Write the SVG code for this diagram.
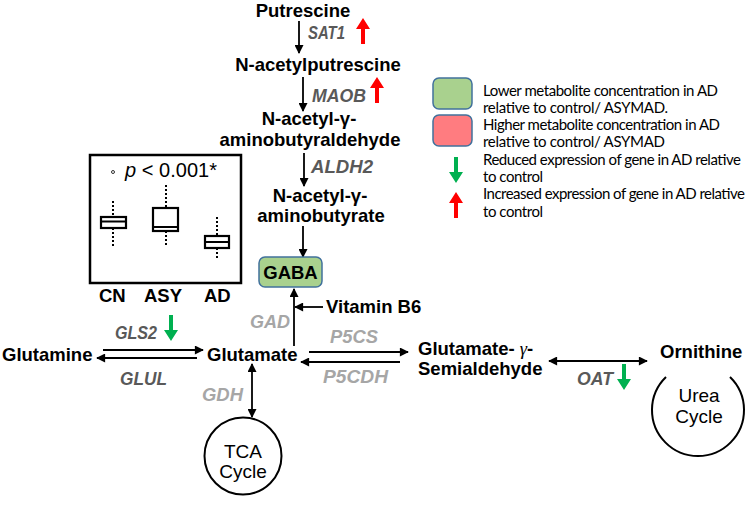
<svg xmlns="http://www.w3.org/2000/svg" width="750" height="515" viewBox="0 0 750 515">
<style>
.m{font-family:"Liberation Sans",Arial,sans-serif;font-weight:bold;font-size:18.5px;fill:#000}
.g{font-family:"Liberation Sans",Arial,sans-serif;font-weight:bold;font-style:italic;font-size:19px}
.dk{fill:#595959}
.lt{fill:#a6a6a6}
.c{font-family:"Liberation Sans",Arial,sans-serif;font-size:19px;fill:#000;text-anchor:middle}
.lg{font-family:Lato,"Liberation Sans",sans-serif;font-size:15px;fill:#000}
.ln{stroke:#000;stroke-width:1.8;fill:none}
.ar{marker-end:url(#ah)}
.ar2{marker-end:url(#ah);marker-start:url(#ah)}
.bx{fill:#fff;stroke:#000;stroke-width:2.2}
.wh{stroke:#000;stroke-width:2;stroke-dasharray:2,2}
</style>
<defs>
<marker id="ah" viewBox="0 0 10 10" refX="9" refY="5" markerUnits="userSpaceOnUse" markerWidth="10" markerHeight="9" orient="auto-start-reverse">
<path d="M0,0 L10,5 L0,10 z" fill="#000"/>
</marker>
<path id="dn" d="M-2,0 h4 v15 h5 L0,26 L-7,15 h5 z" fill="#00b050"/>
<path id="up" d="M-2,26 h4 v-15 h5 L0,0 L-7,11 h5 z" fill="#ff0000"/>
</defs>

<g id="connectors">
<line class="ln ar" x1="299" y1="21" x2="299" y2="53"/>
<line class="ln ar" x1="303" y1="77" x2="303" y2="111"/>
<line class="ln ar" x1="304" y1="153" x2="304" y2="186"/>
<line class="ln ar" x1="303" y1="226" x2="303" y2="257"/>
<line class="ln ar" x1="294" y1="346" x2="294" y2="289"/>
<line class="ln ar" x1="323" y1="307" x2="295" y2="307"/>
<line class="ln ar" x1="103" y1="350" x2="203" y2="350"/>
<line class="ln ar" x1="197" y1="358" x2="97" y2="358"/>
<line class="ln ar" x1="309" y1="352" x2="408" y2="352"/>
<line class="ln ar" x1="400" y1="362" x2="301" y2="362"/>
<line class="ln ar2" x1="549" y1="361" x2="647" y2="361"/>
<line class="ln ar2" x1="252" y1="364" x2="252" y2="417"/>
</g>

<g id="putrescine"><text class="m" x="303" y="17" text-anchor="middle">Putrescine</text></g>
<g id="sat1"><text class="g dk" x="308" y="39" textLength="37" lengthAdjust="spacingAndGlyphs">SAT1</text><use href="#up" x="363" y="18"/></g>
<g id="n-acetylputrescine"><text class="m" x="318" y="71" text-anchor="middle">N-acetylputrescine</text></g>
<g id="maob"><text class="g dk" x="312" y="102" textLength="54" lengthAdjust="spacingAndGlyphs">MAOB</text><use href="#up" x="377" y="77"/></g>
<g id="n-acetyl-gaba-ald"><text class="m" text-anchor="middle"><tspan x="309" y="125">N-acetyl-γ-</tspan><tspan x="310" y="146">aminobutyraldehyde</tspan></text></g>
<g id="aldh2"><text class="g dk" x="311" y="173" textLength="62" lengthAdjust="spacingAndGlyphs">ALDH2</text></g>
<g id="n-acetyl-gaba"><text class="m" text-anchor="middle"><tspan x="320" y="202">N-acetyl-γ-</tspan><tspan x="321" y="222">aminobutyrate</tspan></text></g>
<g id="gaba"><rect x="259" y="257" width="63" height="30" rx="6" fill="#a9d18e" stroke="#41719c" stroke-width="1.5"/><text class="m" x="290.5" y="278.5" text-anchor="middle" font-size="18">GABA</text></g>
<g id="vitb6"><text class="m" x="326" y="313">Vitamin B6</text></g>
<g id="gad"><text class="g lt" x="250" y="328" textLength="40" lengthAdjust="spacingAndGlyphs">GAD</text></g>

<g id="boxplot">
<rect x="90" y="155" width="151" height="128" fill="#fff" stroke="#000" stroke-width="2.5"/>
<circle cx="113" cy="172" r="1.5" fill="none" stroke="#000" stroke-width="0.8"/>
<text x="125" y="177" font-family="Liberation Sans,Arial,sans-serif" font-size="20" textLength="92"><tspan font-style="italic">p</tspan> &lt; 0.001*</text>
<line class="wh" x1="113" y1="201" x2="113" y2="217"/><line class="wh" x1="113" y1="228" x2="113" y2="247"/>
<rect class="bx" x="101" y="217" width="25" height="11"/><line stroke="#000" stroke-width="2" x1="101" y1="221.5" x2="126" y2="221.5"/>
<line class="wh" x1="166" y1="185" x2="166" y2="208"/><line class="wh" x1="166" y1="231" x2="166" y2="245"/>
<rect class="bx" x="153" y="208" width="25" height="23"/><line stroke="#000" stroke-width="2" x1="153" y1="227" x2="178" y2="227"/>
<line class="wh" x1="217" y1="217" x2="217" y2="236"/><line class="wh" x1="217" y1="248" x2="217" y2="260"/>
<rect class="bx" x="205" y="236" width="24" height="12"/><line stroke="#000" stroke-width="2" x1="205" y1="242" x2="229" y2="242"/>
<text class="m" x="99" y="302" font-size="19.5">CN</text><text class="m" x="144" y="302" font-size="19.5">ASY</text><text class="m" x="204" y="302" font-size="19.5">AD</text>
</g>

<g id="glutamine"><text class="m" x="2" y="361">Glutamine</text></g>
<g id="gls2"><text class="g dk" x="115" y="339" textLength="42" lengthAdjust="spacingAndGlyphs">GLS2</text><use href="#dn" x="171" y="315"/></g>
<g id="glul"><text class="g dk" x="120" y="385" textLength="47" lengthAdjust="spacingAndGlyphs">GLUL</text></g>
<g id="glutamate"><text class="m" x="207" y="361">Glutamate</text></g>
<g id="p5cs"><text class="g lt" x="330" y="343" textLength="48" lengthAdjust="spacingAndGlyphs">P5CS</text></g>
<g id="p5cdh"><text class="g lt" x="323" y="383" textLength="65" lengthAdjust="spacingAndGlyphs">P5CDH</text></g>
<g id="gsa"><text class="m"><tspan x="418" y="355">Glutamate- <tspan font-weight="normal" font-style="italic" font-family="Liberation Serif,serif">γ</tspan>-</tspan><tspan x="418" y="375">Semialdehyde</tspan></text></g>
<g id="oat"><text class="g dk" x="577" y="385" textLength="36" lengthAdjust="spacingAndGlyphs">OAT</text><use href="#dn" x="624" y="364"/></g>
<g id="ornithine"><text class="m" x="660" y="358">Ornithine</text></g>
<g id="urea"><path d="M666,377 A46,46 0 1 0 730,377" fill="none" stroke="#000" stroke-width="2"/><text class="c"><tspan x="699" y="402">Urea</tspan><tspan x="699" y="423">Cycle</tspan></text></g>
<g id="gdh"><text class="g lt" x="202" y="401" textLength="41" lengthAdjust="spacingAndGlyphs">GDH</text></g>
<g id="tca"><circle cx="243" cy="456" r="38.5" fill="none" stroke="#000" stroke-width="2"/><text class="c"><tspan x="243" y="458">TCA</tspan><tspan x="243" y="478">Cycle</tspan></text></g>

<g id="legend">
<rect x="433" y="78" width="39" height="31" rx="6" fill="#a9d18e" stroke="#41719c" stroke-width="1.5"/>
<rect x="433" y="115" width="39" height="31" rx="6" fill="#ff7c80" stroke="#41719c" stroke-width="1.5"/>
<use href="#dn" x="456" y="157"/>
<use href="#up" x="456" y="192"/>
<text class="lg" x="483" y="95.5" textLength="235">Lower metabolite concentration in AD</text>
<text class="lg" x="483" y="112.8" textLength="185">relative to control/ ASYMAD.</text>
<text class="lg" x="483" y="130.1" textLength="237">Higher metabolite concentration in AD</text>
<text class="lg" x="483" y="147.4" textLength="182">relative to control/ ASYMAD</text>
<text class="lg" x="483" y="164.7" textLength="258">Reduced expression of gene in AD relative</text>
<text class="lg" x="483" y="182" textLength="60">to control</text>
<text class="lg" x="483" y="199.3" textLength="262">Increased expression of gene in AD relative</text>
<text class="lg" x="483" y="216.6" textLength="60">to control</text>
</g>
</svg>
